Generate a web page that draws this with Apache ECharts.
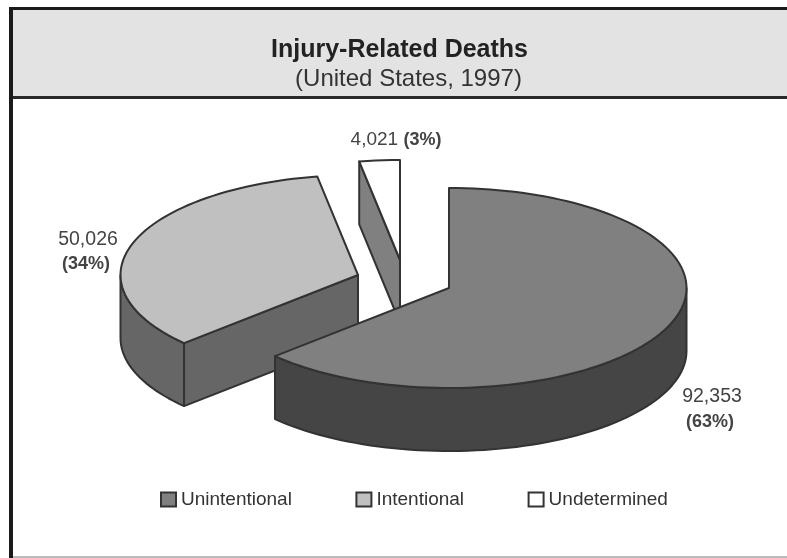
<!DOCTYPE html>
<html>
<head>
<meta charset="utf-8">
<style>html,body{margin:0;padding:0;background:#fff}#c{width:787px;height:558px}</style>
<script src="https://cdn.jsdelivr.net/npm/echarts@6/dist/echarts.min.js"></script>
</head>
<body>
<div id="c"></div>
<script>
const categories = ['Unintentional', 'Intentional', 'Undetermined'];
const deaths = [92353, 50026, 4021];
const percents = [63, 34, 3];
const topColors = ['#808080', '#c0c0c0', '#ffffff'];
const sideColors = ['#454545', '#666666', '#808080'];

const FONT = '"Liberation Sans", Arial, sans-serif';
const INK = '#333333';
const pie = { cx: 449, cy: 288, rx: 237.5, ry: 100, depth: 63 };
const explode = [[0, 0], [-91, -13], [-49, -28]];
const labelAnchors = [
  [[712, 397], [710, 422]],
  [[88, 240], [86, 264]],
  [[396, 140]]
];

const total = deaths.reduce((a, b) => a + b, 0);
const starts = [];
deaths.reduce((acc, v, i) => { starts[i] = acc; return acc + v / total * 360; }, 0);

function rim(cx, cy, deg) {
  const t = deg * Math.PI / 180;
  return [cx + pie.rx * Math.sin(t), cy - pie.ry * Math.cos(t)];
}
function arc(cx, cy, a0, a1) {
  const pts = [];
  const n = Math.max(2, Math.ceil(Math.abs(a1 - a0) / 2));
  for (let i = 0; i <= n; i++) pts.push(rim(cx, cy, a0 + (a1 - a0) * i / n));
  return pts;
}
function down(pts) { return pts.map(p => [p[0], p[1] + pie.depth]); }
function poly(points, fill) {
  return { type: 'polygon', shape: { points }, style: { fill, stroke: INK, lineWidth: 2, lineJoin: 'round' } };
}
function renderSlice(i) {
  return function (params, api) {
    const value = api.value(0);
    const a0 = starts[i];
    const a1 = a0 + value / total * 360;
    const cx = pie.cx + explode[i][0];
    const cy = pie.cy + explode[i][1];
    const children = [];
    const s0 = rim(cx, cy, a0);
    if (a0 > 180) {
      const face = [[cx, cy], s0];
      children.push(poly(face.concat(down(face).reverse()), sideColors[i]));
    }
    const w0 = Math.max(a0, 90), w1 = Math.min(a1, 270);
    if (w1 > w0) {
      const wall = arc(cx, cy, w0, w1);
      children.push(poly(wall.concat(down(wall).reverse()), sideColors[i]));
    }
    children.push(poly([[cx, cy]].concat(arc(cx, cy, a0, a1)), topColors[i]));
    const lines = i === 2
      ? [[value.toLocaleString('en-US') + ' ', '(' + percents[i] + '%)']]
      : [[value.toLocaleString('en-US')], ['(' + percents[i] + '%)']];
    lines.forEach((ln, k) => {
      const isSingle = ln.length === 2;
      const [x, y] = labelAnchors[i][k];
      children.push({
        type: 'text',
        x, y,
        style: {
          text: isSingle ? '{n|' + ln[0] + '}{b|' + ln[1] + '}' : ln[0],
          font: (k === 1 ? 'bold 18px ' : '19.5px ') + FONT,
          fill: '#444',
          align: 'center',
          verticalAlign: 'middle',
          rich: isSingle ? {
            n: { font: '19px ' + FONT, fill: '#444' },
            b: { font: 'bold 18px ' + FONT, fill: '#444' }
          } : undefined
        }
      });
    });
    return { type: 'group', children };
  };
}

const chart = echarts.init(document.getElementById('c'), null, { renderer: 'canvas' });
chart.setOption({
  animation: false,
  backgroundColor: '#ffffff',
  title: [
    {
      text: 'Injury-Related Deaths',
      left: 394.5,
      top: 31,
      textAlign: 'center',
      textStyle: { fontFamily: FONT, fontSize: 25, fontWeight: 'bold', color: '#222', lineHeight: 28 }
    },
    {
      text: '(United States, 1997)',
      left: 403.5,
      top: 61,
      textAlign: 'center',
      textStyle: { fontFamily: FONT, fontSize: 24, fontWeight: 'normal', color: '#333', lineHeight: 27 }
    }
  ],
  legend: {
    data: categories,
    left: 155,
    top: 485,
    icon: 'rect',
    itemWidth: 15,
    itemHeight: 14,
    itemGap: 63.5,
    selectedMode: false,
    itemStyle: { borderColor: INK, borderWidth: 2 },
    textStyle: { fontFamily: FONT, fontSize: 19, color: '#333' }
  },
  graphic: [
    { type: 'rect', z: 0, shape: { x: 11, y: 9, width: 776, height: 88 }, style: { fill: '#e3e3e3' } },
    { type: 'rect', z: 1, shape: { x: 9, y: 7, width: 778, height: 3 }, style: { fill: '#1a1a1a' } },
    { type: 'rect', z: 1, shape: { x: 9, y: 96, width: 778, height: 3 }, style: { fill: '#2a2a2a' } },
    { type: 'rect', z: 1, shape: { x: 9, y: 7, width: 4, height: 551 }, style: { fill: '#1a1a1a' } },
    { type: 'rect', z: 1, shape: { x: 13, y: 556, width: 774, height: 2 }, style: { fill: '#bbbbbb' } }
  ],
  series: categories.map((name, i) => ({
    type: 'custom',
    name,
    coordinateSystem: 'none',
    z: i === 0 ? 4 : 3,
    silent: true,
    itemStyle: { color: topColors[i] },
    renderItem: renderSlice(i),
    data: [[deaths[i]]]
  }))
});
</script>
</body>
</html>
